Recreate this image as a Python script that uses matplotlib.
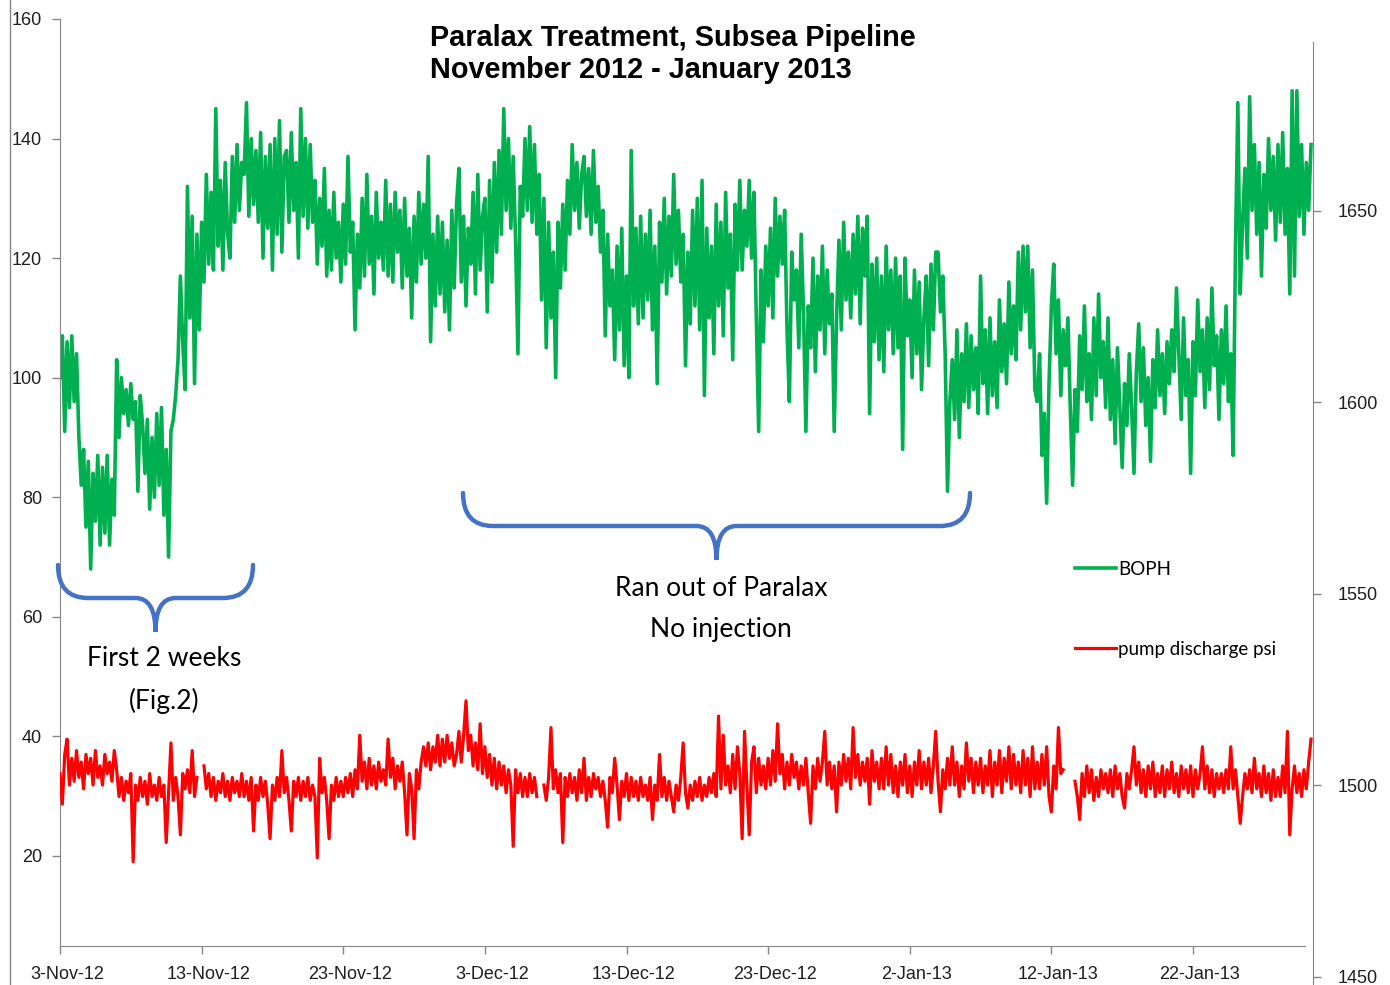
import numpy as np
import pandas as pd
import matplotlib
matplotlib.use("Agg")
import matplotlib.pyplot as plt
import matplotlib.dates as mdates
from matplotlib.path import Path
from matplotlib.patches import PathPatch
from matplotlib.lines import Line2D
from matplotlib.transforms import ScaledTranslation

# ---- data: 4-hourly readings starting 3 Nov 2012 (one line = 5 days) ----
start = "2012-11-03"
step = "4h"

boph = [
    100, 107, 91, 106, 95, 107, 96, 104, 90, 82, 88, 75, 86, 68, 84, 76, 87, 72, 85, 74, 87, 72, 83, 77, 103, 90, 100, 94, 98, 92,
    99, 93, 96, 81, 97, 92, 84, 93, 78, 90, 80, 94, 82, 95, 77, 88, 70, 91, 93, 97, 103, 117, 106, 98, 132, 110, 127, 99, 124, 108,
    126, 116, 134, 119, 131, 118, 145, 122, 133, 118, 136, 124, 120, 137, 126, 139, 128, 136, 134, 146, 127, 140, 129, 138, 126, 141, 120, 137, 125, 139,
    118, 140, 124, 143, 121, 137, 138, 126, 141, 128, 136, 120, 145, 127, 140, 125, 139, 126, 133, 119, 130, 122, 135, 117, 128, 118, 131, 120, 126, 116,
    129, 119, 137, 121, 126, 108, 124, 115, 130, 117, 134, 119, 127, 114, 131, 120, 126, 118, 133, 117, 129, 116, 131, 121, 128, 115, 130, 117, 125, 110,
    127, 116, 131, 119, 129, 120, 137, 106, 124, 112, 127, 114, 126, 111, 123, 108, 128, 115, 129, 135, 116, 127, 112, 125, 119, 131, 114, 134, 118, 127,
    130, 111, 133, 116, 136, 121, 138, 124, 145, 128, 140, 125, 137, 123, 104, 132, 127, 140, 128, 142, 126, 139, 124, 134, 113, 130, 105, 126, 110, 121,
    100, 126, 115, 129, 118, 133, 124, 139, 128, 136, 125, 134, 137, 127, 135, 124, 138, 126, 132, 121, 128, 107, 124, 112, 118, 103, 122, 108, 125, 102,
    117, 100, 138, 112, 125, 109, 127, 110, 124, 113, 128, 108, 122, 99, 126, 116, 130, 114, 127, 117, 134, 119, 128, 116, 124, 102, 121, 109, 128, 112,
    130, 108, 133, 97, 125, 110, 122, 104, 129, 112, 126, 107, 131, 115, 124, 103, 129, 118, 133, 118, 128, 122, 133, 120, 131, 110, 91, 118, 106, 122,
    112, 125, 110, 130, 117, 127, 119, 128, 108, 96, 121, 113, 118, 105, 124, 111, 91, 112, 105, 120, 101, 117, 108, 122, 104, 118, 109, 114, 91, 110,
    123, 108, 126, 113, 121, 110, 124, 114, 127, 109, 125, 117, 127, 94, 119, 106, 120, 103, 117, 101, 122, 108, 118, 104, 120, 105, 117, 88, 120, 107,
    113, 100, 118, 104, 116, 98, 110, 117, 102, 119, 108, 121, 121, 111, 117, 104, 81, 96, 103, 93, 108, 90, 104, 96, 109, 95, 107, 98, 105, 94,
    117, 99, 108, 94, 110, 97, 106, 95, 113, 101, 109, 99, 116, 104, 112, 103, 121, 108, 122, 111, 122, 105, 118, 98, 96, 104, 87, 94, 79, 99,
    112, 119, 104, 113, 97, 108, 102, 110, 95, 82, 98, 91, 107, 98, 112, 96, 104, 93, 110, 97, 114, 100, 106, 95, 110, 93, 103, 89, 105, 95,
    85, 99, 92, 104, 95, 84, 101, 109, 96, 105, 92, 100, 86, 103, 95, 108, 97, 104, 94, 106, 99, 108, 101, 115, 104, 93, 110, 97, 103, 84,
    106, 97, 113, 101, 108, 95, 110, 98, 115, 102, 107, 93, 108, 99, 112, 96, 104, 87, 122, 146, 114, 126, 135, 120, 147, 128, 139, 124, 136, 117,
    134, 125, 140, 128, 137, 123, 139, 126, 141, 124, 135, 114, 148, 117, 148, 127, 139, 124, 136, 128, 139,
]

nan = np.nan
pump_psi = [
    1503, 1495, 1508, 1512, 1500, 1507, 1501, 1509, 1502, 1506, 1499, 1508, 1503, 1507, 1500, 1509, 1502, 1505, 1500, 1508, 1503, 1506, 1501, 1509, 1504, 1497, 1502, 1496, 1501, 1498,
    1503, 1480, 1500, 1496, 1502, 1497, 1501, 1495, 1503, 1497, 1500, 1496, 1502, 1497, 1500, 1485, 1498, 1511, 1496, 1502, 1497, 1487, 1503, 1499, 1504, 1498, 1509, 1497, 1502, nan,
    nan, 1505, 1499, 1503, 1497, 1502, 1496, 1501, 1498, 1503, 1497, 1501, 1496, 1502, 1498, 1501, 1497, 1503, 1497, 1501, 1496, 1502, 1488, 1500, 1496, 1502, 1497, 1501, 1495, 1486,
    1500, 1496, 1502, 1497, 1509, 1498, 1502, 1496, 1488, 1501, 1497, 1502, 1496, 1501, 1497, 1502, 1496, 1500, 1497, 1481, 1507, 1498, 1502, 1496, 1486, 1500, 1496, 1502, 1497, 1501,
    1497, 1502, 1498, 1503, 1497, 1504, 1499, 1513, 1501, 1506, 1499, 1507, 1500, 1505, 1499, 1506, 1501, 1504, 1500, 1512, 1502, 1507, 1499, 1505, 1501, 1506, 1498, 1487, 1503, 1499,
    1486, 1504, 1499, 1506, 1510, 1505, 1511, 1504, 1510, 1506, 1513, 1505, 1512, 1506, 1513, 1507, 1511, 1505, 1508, 1514, 1506, 1513, 1522, 1509, 1513, 1505, 1511, 1504, 1516, 1503,
    1510, 1502, 1508, 1500, 1507, 1499, 1506, 1500, 1505, 1498, 1504, 1500, 1484, 1504, 1498, 1503, 1497, 1502, 1497, 1503, 1498, 1502, 1497, nan, nan, 1500, 1496, 1502, 1515, 1499,
    1504, 1498, 1503, 1485, 1502, 1497, 1503, 1498, 1502, 1496, 1504, 1498, 1507, 1496, 1502, 1497, 1503, 1499, 1502, 1497, 1501, 1496, 1489, 1502, 1498, 1507, 1500, 1491, 1501, 1497,
    1503, 1496, 1502, 1497, 1501, 1496, 1502, 1497, 1500, 1496, 1502, 1491, 1500, 1496, 1508, 1497, 1502, 1496, 1501, 1497, 1493, 1500, 1496, 1502, 1511, 1498, 1494, 1500, 1496, 1501,
    1497, 1502, 1496, 1500, 1497, 1502, 1498, 1503, 1497, 1518, 1499, 1513, 1500, 1505, 1498, 1508, 1499, 1510, 1503, 1486, 1514, 1500, 1487, 1506, 1510, 1498, 1507, 1500, 1505, 1499,
    1507, 1500, 1509, 1501, 1516, 1503, 1508, 1499, 1506, 1500, 1508, 1502, 1506, 1499, 1505, 1500, 1507, 1498, 1490, 1505, 1499, 1507, 1501, 1506, 1514, 1500, 1506, 1499, 1505, 1493,
    1506, 1500, 1508, 1501, 1507, 1499, 1515, 1502, 1508, 1500, 1506, 1501, 1507, 1495, 1509, 1501, 1506, 1499, 1507, 1499, 1510, 1500, 1508, 1498, 1505, 1497, 1506, 1500, 1508, 1498,
    1505, 1497, 1506, 1500, 1509, 1499, 1506, 1500, 1507, 1498, 1505, 1514, 1501, 1493, 1504, 1499, 1507, 1500, 1510, 1500, 1506, 1497, 1505, 1499, 1511, 1501, 1507, 1498, 1506, 1500,
    1507, 1498, 1505, 1500, 1509, 1497, 1506, 1500, 1509, 1498, 1507, 1501, 1510, 1499, 1508, 1500, 1506, 1498, 1509, 1500, 1507, 1497, 1510, 1499, 1506, 1499, 1508, 1500, 1510, 1497,
    1493, 1505, 1499, 1515, 1503, 1504, nan, nan, nan, nan, 1501, 1497, 1491, 1503, 1497, 1505, 1498, 1504, 1496, 1502, 1497, 1504, 1499, 1503, 1498, 1504, 1497, 1505, 1499, 1503,
    1497, 1494, 1503, 1499, 1504, 1510, 1500, 1506, 1498, 1504, 1497, 1505, 1499, 1506, 1497, 1503, 1498, 1505, 1497, 1504, 1499, 1506, 1498, 1503, 1497, 1505, 1499, 1504, 1498, 1505,
    1497, 1504, 1499, 1503, 1510, 1499, 1505, 1498, 1504, 1497, 1503, 1499, 1503, 1498, 1504, 1499, 1510, 1499, 1504, 1497, 1490, 1497, 1503, 1499, 1504, 1498, 1507, 1499, 1503, 1497,
    1505, 1498, 1503, 1496, 1504, 1497, 1502, 1497, 1505, 1498, 1514, 1487, 1499, 1505, 1498, 1503, 1497, 1504, 1499, 1506, 1512,
]

left_ticks = [20, 40, 60, 80, 100, 120, 140, 160]
right_ticks = [1450, 1500, 1550, 1600, 1650]
date_labels = ["3-Nov-12", "13-Nov-12", "23-Nov-12", "3-Dec-12", "13-Dec-12",
               "23-Dec-12", "2-Jan-13", "12-Jan-13", "22-Jan-13"]

title_lines = ["Paralax Treatment, Subsea Pipeline", "November 2012 - January 2013"]
series_names = ["BOPH", "pump discharge psi"]

# ---- layout helpers (pixel -> figure fraction) ----
W, H = 1390, 985
def fx(px):
    return px / W
def fy(py):
    return 1 - py / H

GRID = "#868686"
TXT = "#1e1e1e"
GREEN = "#00B050"
RED = "#FF0000"
BLUE = "#4472C4"

t_boph = pd.date_range(start, periods=len(boph), freq=step)
t_pump = pd.date_range(start, periods=len(pump_psi), freq=step)
tick_dates = pd.date_range(start, periods=len(date_labels), freq="10D")
d0 = mdates.date2num(pd.Timestamp(start))
px_per_day = 14.1625

fig = plt.figure(figsize=(13.9, 9.85), dpi=100)
ax = fig.add_axes([fx(60), 0, fx(1313) - fx(60), fy(19)])
ax2 = ax.twinx()

g_line, = ax.plot(t_boph, boph, color=GREEN, lw=2.6)
r_line, = ax2.plot(t_pump, pump_psi, color=RED, lw=2.3)

ax.set_xlim(d0, d0 + (1313 - 60) / px_per_day)
ax.set_ylim(-1.6, 160)
ax2.set_ylim(1447.8, 1700)

# left axis
ax.set_yticks(left_ticks)
ax.spines["left"].set_bounds(5, 160)
ax.spines["left"].set_color(GRID)
for s in ["top", "right"]:
    ax.spines[s].set_visible(False)
ax.spines["bottom"].set_position(("data", 5.0))
ax.spines["bottom"].set_bounds(d0, d0 + (1305 - 60) / px_per_day)
ax.spines["bottom"].set_color(GRID)

ax.set_xticks(tick_dates)
ax.set_xticklabels(date_labels)
ax.tick_params(axis="both", direction="out", length=6, width=1, color=GRID,
               labelsize=13, labelcolor=TXT)
ax.tick_params(axis="y", pad=7)
ax.tick_params(axis="x", pad=9)
for lab in ax.get_xticklabels():
    lab.set_transform(lab.get_transform() + ScaledTranslation(0.07, 0, fig.dpi_scale_trans))

# right axis
ax2.set_yticks(right_ticks)
for s in ["top", "left", "bottom"]:
    ax2.spines[s].set_visible(False)
ax2.spines["right"].set_bounds(1447.8, 1694)
ax2.spines["right"].set_color(GRID)
ax2.tick_params(axis="y", direction="out", length=6, width=1, color=GRID,
                labelsize=13, labelcolor=TXT, pad=12)

for a in (ax, ax2):
    for lab in a.get_xticklabels() + a.get_yticklabels():
        lab.set_family("Liberation Sans")

# outer frame line on the left
fig.add_artist(Line2D([fx(10), fx(10)], [0, 1], transform=fig.transFigure, color=GRID, lw=1))

# title
fig.text(fx(430), fy(46), title_lines[0], fontsize=20.8, fontweight="bold",
         family="Liberation Sans", va="baseline", ha="left")
fig.text(fx(430), fy(78), title_lines[1], fontsize=20.8, fontweight="bold",
         family="Liberation Sans", va="baseline", ha="left")

# braces
def brace(x0, x1, ytop, ymid, ytip, r=30):
    xc = (x0 + x1) / 2
    pts = [(x0, ytop), (x0, ymid), (x0 + r, ymid),
           (xc - 20, ymid),
           (xc, ymid), (xc, ytip),
           (xc, ymid), (xc + 20, ymid),
           (x1 - r, ymid),
           (x1, ymid), (x1, ytop)]
    codes = [Path.MOVETO, Path.CURVE3, Path.CURVE3, Path.LINETO,
             Path.CURVE3, Path.CURVE3, Path.CURVE3, Path.CURVE3,
             Path.LINETO, Path.CURVE3, Path.CURVE3]
    verts = [(fx(x), fy(y)) for x, y in pts]
    fig.add_artist(PathPatch(Path(verts, codes), transform=fig.transFigure,
                             fill=False, edgecolor=BLUE, lw=3.2, capstyle="round"))

brace(58, 253, 565, 598, 632)
brace(463, 970, 493, 526, 560)

note_font = dict(fontsize=19, family="Lato", color="black", ha="center", va="center")
fig.text(fx(164), fy(659), "First 2 weeks", **note_font)
fig.text(fx(164), fy(701), "(Fig.2)", **note_font)
fig.text(fx(721), fy(588), "Ran out of Paralax", **note_font)
fig.text(fx(721), fy(630), "No injection", **note_font)

# legend
fig.legend([g_line, r_line], series_names, loc="upper left",
           bbox_to_anchor=(fx(1075), fy(561)), frameon=False,
           borderaxespad=0, borderpad=0, handlelength=2.2, handletextpad=0.12,
           labelspacing=3.35, prop={"family": "Lato", "size": 13.5})

fig.savefig("out.png", dpi=100)
